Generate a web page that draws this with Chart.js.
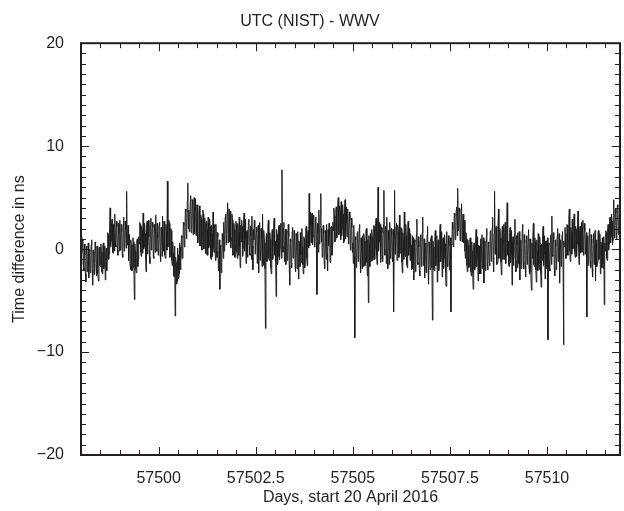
<!DOCTYPE html>
<html lang="en">
<head>
  <meta charset="UTF-8" />
  <title>UTC (NIST) - WWV</title>
  <script src="https://cdn.jsdelivr.net/npm/chart.js"></script>
  <style>
    body {
      margin: 0;
      background: #fff;
    }
    #wrap {
      width: 624px;
      height: 511px;
      position: relative;
    }
  </style>
</head>
<body>
  <div id="wrap"><canvas id="wwvChart"></canvas></div>

<script>
  // time axis: MJD, one sample every 0.0125 day (18 min)
  const startDay = 57498.0;
  const sampleStep = 0.0125;
  const xMin = 57498.0;
  const xMax = 57511.88;
  const xLabelDays = [57500, 57502.5, 57505, 57507.5, 57510];
  const yLabelNs = [-20, -10, 0, 10, 20];

  // UTC(NIST) - WWV, ns (half a day per row)
  const timeDiffNs = [
    1.2, -1.5, -0.4, 0.9, 0.8, -1.8, -2.1, 0.5, -0.6, -2.4, -3.2, 0.1, 0.3, -2.2, -1.5, 0.6, -2.8, 0.0, -0.2, -2.3, -1.9, 0.4, 0.9, -2.0, -3.5, -0.1, -0.8, -2.5, -1.4, 0.7, 0.4, -1.9, -2.6, 0.3, -0.9, -2.4, -3.1, 0.0, 0.2, -1.6,
    -1.7, 0.5, -0.3, -2.2, -2.4, 0.2, 0.6, -1.9, -1.2, 0.3, -3.0, -0.4, 0.1, -2.1, -0.9, 1.6, 1.4, -1.0, -0.5, 2.1, 4.0, 0.2, 0.8, 2.6, 2.9, -0.3, -0.4, 2.4, 1.9, -0.2, 3.4, 0.4, 0.2, 2.7, 2.2, -0.1, -0.6, 2.5, 1.6, -0.2,
    2.8, -0.1, 0.3, 2.4, 1.7, -0.5, -0.8, 2.2, 3.1, -0.2, 0.6, 2.7, 2.0, 0.1, 5.6, 0.4, 0.9, 2.3, -1.1, 1.4, 1.3, -1.5, -2.0, 0.9, 0.4, -2.1, -1.6, 1.1, 0.7, -1.8, -4.9, 0.5, -0.2, -2.0, -2.3, 0.8, 1.0, -1.7, -1.0, 1.2,
    0.5, 2.6, 2.4, -0.3, -0.7, 2.2, 1.8, -0.4, 3.5, 0.0, 0.2, 2.5, 1.5, -0.6, -2.2, 2.0, 2.7, -0.5, 0.4, 2.8, 1.2, -0.8, -1.4, 2.3, 3.0, -0.1, 0.7, 2.6, 2.1, -0.7, -0.9, 2.4, 1.6, -0.3, 3.3, 0.1, -0.2, 2.5, 1.1, -0.6,
    0.3, 2.3, 2.6, -0.4, -1.2, 2.1, 1.4, -0.7, 3.2, -0.2, 0.1, 2.7, 2.0, -0.6, -0.9, 2.4, 1.7, -0.1, 6.6, 0.2, 0.6, 2.8, 2.5, -0.8, -0.5, 2.0, 1.8, -1.1, -1.6, 0.7, -0.4, -2.6, -2.7, 0.3, -6.5, -0.8, -1.3, -3.4, -3.1, 0.1,
    -0.6, -2.9, -2.4, 0.6, 0.2, -2.0, -1.0, 1.3, 1.1, -0.9, 0.3, 2.6, 2.3, 0.2, 1.2, 3.9, 3.6, 1.0, 2.1, 4.7, 6.4, 2.0, 3.8, 1.7, 2.4, 4.6, 5.2, 1.6, 1.9, 4.8, 4.4, 1.4, 2.8, 5.0, 1.5, 3.9, 4.9, 1.3, 2.6, 4.3,
    3.7, 0.6, 1.3, 3.5, 4.2, 0.3, 0.8, 3.3, 2.9, -0.1, 1.6, 3.8, 3.4, 0.0, 0.2, 3.0, 2.5, -0.4, -0.5, 2.7, 1.9, -0.6, 3.1, 0.1, 0.4, 2.9, 2.2, -0.8, -1.0, 2.3, 1.5, -0.7, 3.6, 0.2, -0.3, 2.4, 1.0, -1.1, 2.4, -0.2,
    -0.8, 1.6, 1.2, -2.1, -1.9, 0.9, -3.9, 0.2, 0.4, -2.3, -1.3, 1.5, 0.9, -0.9, 2.6, -0.2, 0.8, 3.1, 3.4, 0.4, 1.4, 3.6, 4.5, 0.6, 2.0, 3.9, 0.7, 3.2, 3.7, 0.1, 1.1, 3.4, 2.8, -0.6, -0.4, 2.5, 1.9, -0.8, 0.3, 2.7,
    2.4, -0.3, -0.9, 2.5, 1.6, -0.6, 3.1, 0.2, -1.8, 2.3, 0.7, 2.8, 2.2, -0.7, 0.1, 2.6, 3.5, -0.2, 1.0, 2.9, -1.4, 1.7, 1.8, -0.8, 0.4, 2.7, 2.9, -0.4, -0.6, 2.2, 1.3, -1.0, 3.2, 0.3, -2.0, 1.9, 0.9, 2.8, 2.1, -0.5,
    -0.5, 2.1, 1.7, -1.4, 0.2, 2.3, -2.3, 1.0, 2.6, -1.1, -0.8, 2.0, 1.1, -1.7, 3.4, -0.3, -1.6, 1.8, 0.6, -1.9, -7.7, 0.8, 1.5, -1.2, -0.2, 2.2, 2.8, -0.9, -1.1, 1.6, 0.9, -1.8, -2.4, 1.2, 1.9, -1.0, 0.4, 2.4, 3.0, -0.6,
    0.8, -1.3, -4.6, 1.9, 1.4, -1.5, -0.7, 2.2, 2.3, -1.0, 0.1, 2.5, 1.8, -0.9, 7.7, 0.3, -0.3, 2.1, 2.6, -1.2, 0.5, 1.9, -1.5, 1.4, 1.9, -1.1, -0.6, 2.4, 1.2, -1.6, -3.5, 1.0, 0.7, -1.4, -1.8, 1.7, 2.1, -0.9, -0.4, 1.8,
    0.9, -1.6, -2.2, 1.5, 1.3, -1.9, -0.8, 1.7, -2.9, 0.8, 0.5, -1.7, 1.6, -0.6, -1.3, 2.0, 0.2, -1.5, -2.4, 1.2, 1.0, -1.8, -0.5, 2.0, 2.2, -0.9, -1.6, 1.4, 1.8, 0.1, 5.4, 0.3, 2.3, 3.6, 0.6, 3.2, 3.5, 0.4, 1.2, 3.3,
    2.7, 0.2, 0.4, 3.0, 3.1, 0.6, -4.4, 2.5, 1.5, -0.3, 3.8, 0.5, 0.9, 3.3, 5.4, 0.7, 2.0, -0.8, -0.7, 2.3, 1.6, -1.2, -1.9, 1.8, 0.8, -1.0, 2.4, -0.5, -2.1, 1.9, 0.3, 2.5, 1.7, -1.3, -0.9, 2.1, 2.2, -0.6, 0.5, 2.6,
    1.8, 4.0, 3.2, 0.7, 0.9, 3.8, 4.1, 1.1, 2.3, 4.4, 5.0, 1.4, 1.6, 4.2, 3.7, 0.9, 4.6, 1.3, 2.0, 4.3, 3.4, 0.6, 0.8, 3.9, 4.8, 1.0, 2.6, 4.1, 1.2, 3.5, 3.9, 0.5, 1.5, 3.6, 2.8, -0.1, 0.4, 3.0, 2.1, -0.3,
    0.6, -1.4, 2.3, -0.7, -8.6, 1.2, 0.9, -1.8, -1.4, 1.6, 1.7, -1.2, -0.5, 2.0, 2.4, -1.0, -2.3, 1.1, 0.2, -1.9, 1.3, -1.4, -1.7, 1.5, 0.8, -1.6, -0.9, 1.8, 2.0, -1.3, -2.6, 0.9, -5.2, 1.3, 0.4, -1.7, 1.5, -1.2, -1.1, 1.9,
    1.2, -1.1, -0.8, 2.3, 2.2, -1.0, 0.1, 2.5, 3.0, -0.6, -1.5, 1.9, 6.0, -0.2, 0.7, 2.6, 2.4, -1.3, -1.0, 2.1, 1.6, -1.2, 0.3, 2.4, 5.7, 0.0, -0.6, 2.2, 1.9, -1.4, 3.1, -0.5, -1.9, 1.8, 0.9, -1.5, 2.6, -0.9, -0.3, 2.0,
    1.4, -0.9, -1.2, 1.9, -6.1, 1.0, 5.7, -0.5, 0.8, 2.2, 2.5, -1.1, -0.9, 2.3, 1.7, -0.8, 3.3, -0.2, -0.4, 2.1, 2.0, -1.3, -2.3, 1.6, 0.9, -1.0, 3.6, -0.3, -0.7, 2.4, 1.3, -1.5, -1.8, 1.8, 2.7, -0.6, 0.2, 2.0, -1.1, 1.5,
    0.4, -2.0, -1.9, 1.3, 1.1, -1.8, -3.0, 0.9, 0.7, -2.2, -0.8, 1.5, 2.9, -1.3, -1.5, 1.2, 0.2, -2.1, -2.6, 0.8, 1.4, -1.7, -0.4, 1.6, 3.1, -1.6, -1.1, 1.0, -2.8, 0.5, 0.6, -2.3, -0.5, 1.4, 2.2, -1.9, -3.4, 0.7, 0.1, -2.0,
    -1.6, 1.0, 1.3, -1.8, -6.9, 0.8, 0.2, -2.0, -2.1, 1.2, 1.8, -1.6, -0.7, 1.3, -3.2, 0.4, 0.9, -2.1, -1.3, 1.5, 2.4, -1.2, -0.2, 1.7, -2.7, 0.6, 1.1, -1.9, -0.9, 1.4, 0.5, -2.2, -3.6, 0.7, 1.7, -1.7, -1.0, 1.3, 0.3, -2.0,
    -0.8, 1.1, -6.1, 0.5, 0.4, 2.6, 1.9, 0.2, 0.8, 3.5, 3.2, 0.9, 1.5, 3.8, 4.1, 1.3, 5.9, 1.8, 2.3, 4.0, 3.6, 0.8, 1.2, 3.9, 4.4, 0.7, 2.0, 3.4, 0.6, 2.5, 2.8, -0.2, -0.9, 1.6, 1.0, -1.6, -2.2, 0.9, 0.3, -1.8,
    -1.4, 0.9, 1.1, -2.2, -2.6, 0.7, -0.2, -2.3, -3.9, 0.3, 0.6, -2.0, -1.8, 0.8, 1.9, -1.7, -0.7, 1.2, -3.1, 0.4, 0.3, -2.4, -1.5, 1.0, -2.4, 0.5, 1.4, -1.9, -0.5, 1.1, -3.3, 0.2, 0.8, -2.1, -1.2, 1.3, 2.0, -1.6, -2.0, 0.7,
    0.5, -1.4, -1.6, 1.7, 1.8, -1.2, -0.6, 2.1, 3.1, -0.8, -2.2, 1.5, 5.6, -0.5, 0.2, 2.2, 1.4, -1.5, -1.3, 1.9, 3.9, -0.9, -0.4, 2.0, 1.1, -1.3, -2.5, 1.4, 2.2, -1.0, 0.7, 2.4, -1.0, 1.6, 2.6, -1.4, -0.3, 2.3, 4.5, -0.6,
    0.8, -1.5, -1.7, 1.6, 2.1, -1.3, -0.5, 1.8, -3.5, 0.6, 1.2, -1.6, -0.9, 1.5, 2.9, -1.1, -2.2, 1.3, 0.4, -1.8, 1.6, -1.0, -1.4, 1.7, -3.0, 0.5, 0.9, -1.9, -0.3, 1.9, 2.4, -1.2, -1.9, 1.4, 0.6, -1.6, -2.7, 0.9, 1.3, -1.5,
    -0.6, 1.3, 1.9, -1.8, -2.4, 1.0, 0.3, -2.2, -4.0, 0.6, -0.9, 1.4, 2.5, -1.5, -1.7, 1.1, 0.7, -2.0, -3.2, 0.9, -0.2, -2.1, 1.5, -1.4, -2.0, 1.2, 0.4, -2.3, -3.7, 0.5, -1.1, 1.6, 2.2, -1.6, -0.5, 1.3, -2.9, 0.7, 0.8, -1.9,
    -1.3, 1.1, -8.8, 0.4, 0.6, -1.9, -2.1, 1.2, 1.4, -1.5, 3.2, -0.6, -0.7, 1.6, 1.0, -1.8, -2.6, 0.9, 0.3, -2.0, -1.5, 1.3, 2.0, -1.2, -0.4, 1.5, -3.3, 0.2, 0.9, -1.7, -1.2, 1.4, 1.7, -1.0, -9.3, 0.8, 0.2, 2.1, 1.5, -0.9,
    -0.4, 2.4, 2.3, -0.6, 0.8, 2.9, 3.9, -0.2, -1.2, 2.1, 1.6, -0.5, 2.9, 0.0, 0.1, 2.7, 3.4, -0.3, -0.8, 2.2, 1.9, -0.7, 0.5, 2.8, 3.7, 0.2, -1.5, 1.8, 2.2, -0.4, 1.0, 2.6, -0.3, 2.0, 2.8, -0.6, 0.6, 2.5, 1.7, -0.5,
    -0.5, 1.6, -6.6, 0.8, 1.3, -1.6, -0.9, 1.7, 2.0, -1.2, -1.8, 1.4, 0.6, -1.9, -2.7, 1.0, 1.5, -1.5, -0.2, 1.8, -3.1, 0.5, 0.9, -1.7, -1.3, 1.6, 1.8, -1.0, -0.6, 1.5, -2.4, 0.7, 0.4, -1.8, 1.1, -1.4, -1.9, 1.2, -5.4, 0.6,
    -0.2, 1.8, 1.6, -0.9, -1.1, 2.0, 2.4, -0.1, 0.5, 2.9, 3.1, 0.6, 1.2, 3.4, 2.7, 0.4, 0.9, 3.6, 4.8, 1.1, 1.9, 3.9, 3.5, 1.0, 2.2, 4.3, 4.1, 1.5, 1.4, 3.8, 3.0, 1.7
  ];

  const ink = '#231f20';
  const fontFamily = "'Liberation Sans', Arial, Helvetica, sans-serif";

  // tick marks every 0.5 day / 1 ns, labels only on the major ones
  function makeTicks(from, to, step) {
    const out = [];
    for (let v = from; v <= to + 1e-9; v += step) out.push({ value: Math.round(v * 1000) / 1000 });
    return out;
  }

  // box frame plus inward tick marks on all four sides
  const frameTicks = {
    id: 'frameTicks',
    afterDraw(chart) {
      const { ctx, chartArea: a, scales } = chart;
      ctx.save();
      ctx.strokeStyle = ink;
      ctx.lineWidth = 1;
      ctx.beginPath();
      scales.x.ticks.forEach(t => {
        const px = Math.round(scales.x.getPixelForValue(t.value)) + 0.5;
        const len = xLabelDays.includes(t.value) ? 8 : 5;
        ctx.moveTo(px, a.bottom); ctx.lineTo(px, a.bottom - len);
        ctx.moveTo(px, a.top); ctx.lineTo(px, a.top + len);
      });
      scales.y.ticks.forEach(t => {
        const py = Math.round(scales.y.getPixelForValue(t.value)) + 0.5;
        const len = yLabelNs.includes(t.value) ? 8 : 5;
        ctx.moveTo(a.left, py); ctx.lineTo(a.left + len, py);
        ctx.moveTo(a.right, py); ctx.lineTo(a.right - len, py);
      });
      ctx.stroke();
      ctx.lineWidth = 2;
      ctx.strokeRect(a.left, a.top, a.right - a.left, a.bottom - a.top);
      ctx.restore();
    }
  };

  const ctx = document.getElementById('wwvChart').getContext('2d');
  new Chart(ctx, {
    type: 'line',
    data: {
      datasets: [{
        data: timeDiffNs.map((v, i) => ({ x: startDay + i * sampleStep, y: v })),
        borderColor: '#1e1e1e',
        borderWidth: 1,
        pointRadius: 0,
        tension: 0,
        fill: false
      }]
    },
    options: {
      responsive: true,
      maintainAspectRatio: false,
      animation: false,
      layout: { padding: { top: 0, right: 4, bottom: 0, left: 0 } },
      plugins: {
        legend: { display: false },
        tooltip: { enabled: false },
        title: {
          display: true,
          text: 'UTC (NIST) - WWV',
          color: ink,
          font: { family: fontFamily, size: 16, weight: 'normal' },
          padding: { top: 12, bottom: 12 }
        }
      },
      scales: {
        x: {
          type: 'linear',
          min: xMin,
          max: xMax,
          afterBuildTicks: s => { s.ticks = makeTicks(57498, 57511.5, 0.5); },
          afterFit: s => { s.height = 56; },
          grid: { display: false },
          border: { display: false },
          ticks: {
            autoSkip: false,
            maxRotation: 0,
            minRotation: 0,
            padding: 6,
            color: ink,
            font: { family: fontFamily, size: 16 },
            callback: v => xLabelDays.includes(v) ? String(v) : ''
          },
          title: {
            display: true,
            text: 'Days, start 20 April 2016',
            color: ink,
            font: { family: fontFamily, size: 16 },
            padding: { top: 0, bottom: 4 }
          }
        },
        y: {
          min: -20,
          max: 20,
          afterBuildTicks: s => { s.ticks = makeTicks(-20, 20, 1); },
          afterFit: s => { s.width = 81; },
          grid: { display: false },
          border: { display: false },
          ticks: {
            autoSkip: false,
            padding: 9,
            color: ink,
            font: { family: fontFamily, size: 16 },
            callback: v => yLabelNs.includes(v) ? String(v).replace('-', '\u2212') : ''
          },
          title: {
            display: true,
            text: 'Time difference in ns',
            color: ink,
            font: { family: fontFamily, size: 16 },
            padding: { top: 10, bottom: 0 }
          }
        }
      }
    },
    plugins: [frameTicks]
  });
</script>
</body>
</html>
